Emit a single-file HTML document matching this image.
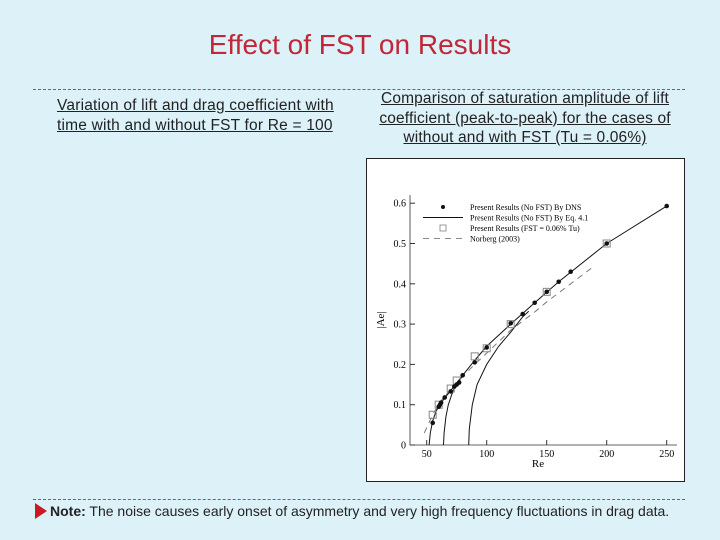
<!DOCTYPE html>
<html><head><meta charset="utf-8"><style>
body{margin:0;width:720px;height:540px;background:#dcf2f8;position:relative;overflow:hidden;font-family:"Liberation Sans",sans-serif}
.t{position:absolute;color:#222}
</style></head><body>
<div class="t" style="left:0;width:720px;top:29px;text-align:center;font-size:28px;color:#c0283a">Effect of FST on Results</div>
<div style="position:absolute;left:33px;width:652px;top:89px;border-top:1px dashed #c04050"></div>
<div style="position:absolute;left:33px;width:652px;top:499px;border-top:1px dashed #c04050"></div>
<div class="t" style="left:57px;top:96px;font-size:15.5px;line-height:20px;text-decoration:underline;letter-spacing:0.2px">Variation of lift and drag coefficient with<br>time with and without FST for Re = 100</div>
<div class="t" style="left:365px;width:320px;top:89px;font-size:15.5px;line-height:19.5px;text-align:center;text-decoration:underline;letter-spacing:0.15px">Comparison of saturation amplitude of lift<br>coefficient (peak-to-peak) for the cases of<br>without and with FST (Tu = 0.06%)</div>
<div style="position:absolute;left:35px;top:503px;width:0;height:0;border-top:8px solid transparent;border-bottom:8px solid transparent;border-left:12px solid #cc1a22"></div>
<div class="t" style="left:50px;top:503px;font-size:14px;letter-spacing:0px"><b>Note:</b> The noise causes early onset of asymmetry and very high frequency fluctuations in drag data.</div>
<svg id="chart" width="720" height="540" style="position:absolute;left:0;top:0" font-family="Liberation Serif,serif"></svg>
<script>
const dnsRe=[55,60,61,62,65,70,73,75,77,80,90,100,120,130,140,150,160,170,200,250];
const dnsA=[0.055,0.095,0.1,0.105,0.118,0.133,0.145,0.15,0.155,0.173,0.205,0.242,0.302,0.325,0.353,0.38,0.405,0.43,0.5,0.593];
const fstRe=[55,60,70,75,90,100,120,150,200];
const fstA=[0.075,0.1,0.14,0.16,0.22,0.24,0.3,0.38,0.5];
const eqARe=[52,53,55,58,62,70,80,90,100,120,140,160,200,250];
const eqAA=[0,0.03,0.06,0.085,0.105,0.135,0.173,0.21,0.245,0.3,0.353,0.405,0.5,0.593];
const eqBRe=[64,64.5,66,68,72,76,80];
const eqBA=[0,0.03,0.07,0.1,0.135,0.155,0.173];
const eqCRe=[85,85.5,88,92,100,110,120,130,135];
const eqCA=[0,0.04,0.1,0.15,0.2,0.245,0.28,0.318,0.332];
const norRe=[48,55,62,75,90,100,120,140,150,170,190];
const norA=[0.03,0.075,0.11,0.155,0.2,0.228,0.285,0.33,0.355,0.4,0.445];
const xTicks=[50,100,150,200,250];
const yTicks=[0,0.1,0.2,0.3,0.4,0.5,0.6];
const X=v=>366.7+1.2*v, Y=v=>445-v*403;
const s=document.getElementById('chart'),NS='http://www.w3.org/2000/svg';
function el(t,a,p){const e=document.createElementNS(NS,t);for(const k in a)e.setAttribute(k,a[k]);(p||s).appendChild(e);return e;}
let e;
e=el('rect',{x:366.5,y:158.5,width:318,height:323,fill:'#fff',stroke:'#222','stroke-width':1});

e=el('path',{d:`M410,195V445H677`,fill:'none',stroke:'#333','stroke-width':0.8});

xTicks.forEach(v=>{el('line',{x1:X(v),x2:X(v),y1:445,y2:440,stroke:'#333'});
e=el('text',{x:X(v),y:457,'font-size':10,'text-anchor':'middle'});e.textContent=v;
});
yTicks.forEach(v=>{el('line',{x1:410,x2:415,y1:Y(v),y2:Y(v),stroke:'#333'});
e=el('text',{x:406,y:Y(v)+3.5,'font-size':10,'text-anchor':'end'});e.textContent=v===0?'0':v.toFixed(1);
});
e=el('text',{x:538,y:467,'font-size':11,'text-anchor':'middle'});e.textContent='Re';

e=el('text',{x:384,y:320,'font-size':11,'text-anchor':'middle',transform:'rotate(-90 384 320)'});e.textContent='|Ae|';

function line(xs,ys,dash,name){const d=xs.map((x,i)=>(i?'L':'M')+X(x)+','+Y(ys[i])).join('');
const p=el('path',{d,fill:'none',stroke:dash?'#777':'#111','stroke-width':1,'stroke-dasharray':dash?'6,5':'none'});
}
line(norRe,norA,true,'norberg-line');
line(eqARe,eqAA,false,'eq-curve-a');line(eqBRe,eqBA,false,'eq-curve-b');line(eqCRe,eqCA,false,'eq-curve-c');
fstRe.forEach((r,i)=>{e=el('rect',{x:X(r)-3.5,y:Y(fstA[i])-3.5,width:7,height:7,fill:'none',stroke:'#888'});
});
dnsRe.forEach((r,i)=>{e=el('circle',{cx:X(r),cy:Y(dnsA[i]),r:2.3,fill:'#111'});
});
const lg=[['Present Results (No FST) By DNS','dot'],['Present Results (No FST) By Eq. 4.1','line'],['Present Results (FST = 0.06% Tu)','sq'],['Norberg (2003)','dash']];
lg.forEach((l,i)=>{const y=207+i*10.5;
if(l[1]=='dot')el('circle',{cx:443,cy:y,r:2,fill:'#111'});
if(l[1]=='line')el('line',{x1:423,x2:463,y1:y,y2:y,stroke:'#111'});
if(l[1]=='sq')el('rect',{x:440,y:y-3,width:6,height:6,fill:'none',stroke:'#999'});
if(l[1]=='dash')el('line',{x1:423,x2:463,y1:y,y2:y,stroke:'#888','stroke-dasharray':'6,5'});
e=el('text',{x:470,y:y+3,'font-size':8});e.textContent=l[0];
});
</script>
</body></html>
